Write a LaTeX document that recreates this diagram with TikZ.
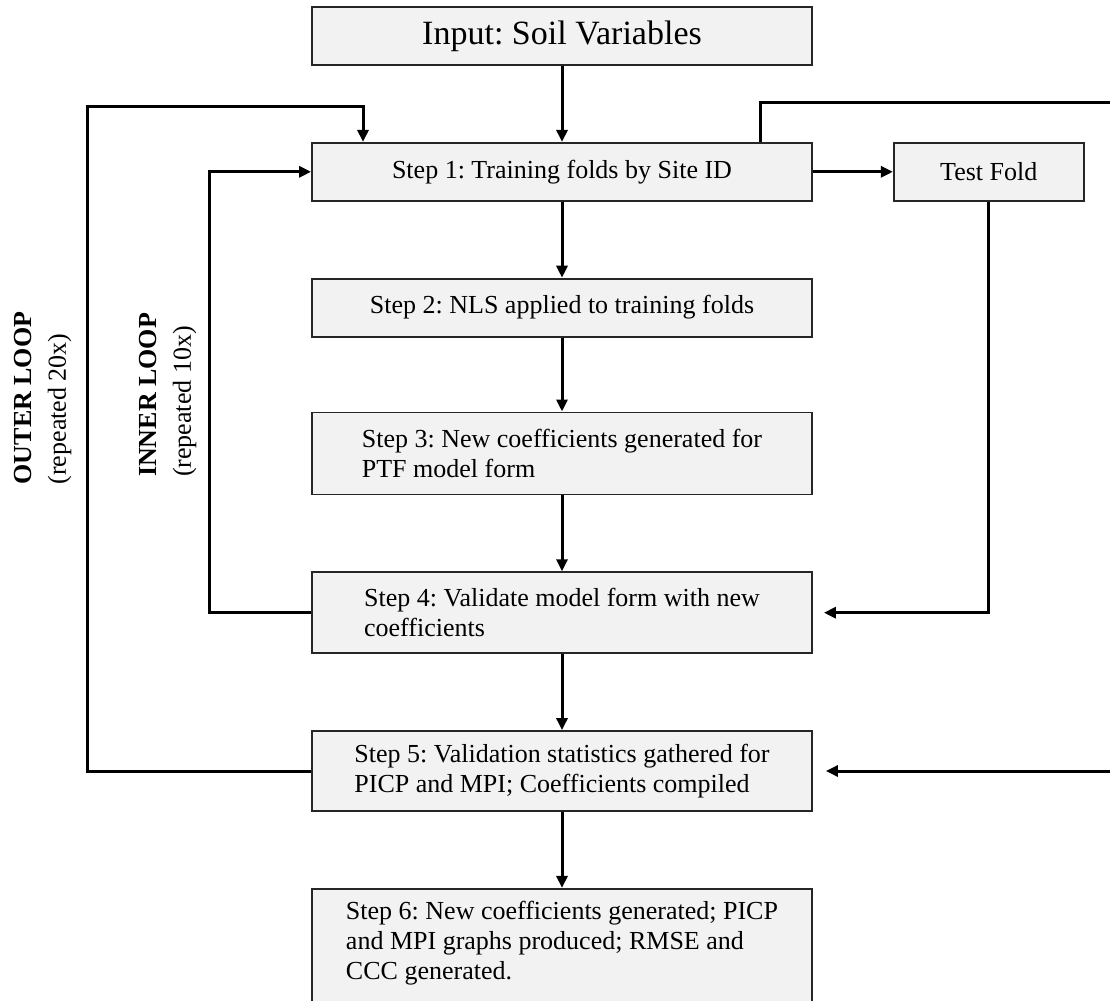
\documentclass[tikz,border=0pt]{standalone}
\usepackage{fontspec}
\setmainfont{Liberation Serif}
\usetikzlibrary{arrows.meta, positioning}
\definecolor{boxfill}{HTML}{F2F2F2}
\frenchspacing

\begin{document}
\begin{tikzpicture}[
  x=0.5pt, y=-0.5pt,
  node distance=38pt,
  box/.style={draw=black!85, line width=0.9pt, fill=boxfill, align=left, minimum width=250pt, minimum height=29pt, inner sep=5pt, font=\fontsize{13pt}{15pt}\selectfont},
  bigbox/.style={box, minimum height=40.5pt},
  arrow/.style={-{Triangle[length=6pt, width=5.5pt]}, line width=1.5pt},
  looplabel/.style={rotate=90, align=left, font=\fontsize{13pt}{17pt}\selectfont}
]
\useasboundingbox (0,0) rectangle (1110,1001);
\clip (0,0) rectangle (1110,1001);

\node[box, font=\fontsize{17pt}{20pt}\selectfont] (input) at (562,36) {Input: Soil Variables};
\node[box, below=of input] (s1) {Step 1: Training folds by Site ID};
\node[box, minimum width=95pt, right=40pt of s1] (test) {Test Fold};
\node[box, below=of s1] (s2) {Step 2: NLS applied to training folds};
\node[bigbox, minimum height=41pt, below=37pt of s2] (s3) {Step 3: New coefficients generated for\\PTF model form};
\node[bigbox, below=of s3] (s4) {Step 4: Validate model form with new\\coefficients};
\node[bigbox, minimum height=40pt, below=of s4] (s5) {Step 5: Validation statistics gathered for\\PICP and MPI; Coefficients compiled};
\node[box, inner ysep=6pt, below=of s5] (s6) {Step 6: New coefficients generated; PICP\\and MPI graphs produced; RMSE and\\CCC generated.\\\strut};

\node[looplabel] (outer) at (43,398) {\textbf{OUTER LOOP}\\(repeated 20x)};
\node[looplabel] (inner) at (168,395) {\textbf{INNER LOOP}\\(repeated 10x)};

\coordinate (outertop) at (87,106);
\coordinate (rightloop) at (1135,102);

\draw[arrow] (input) -- (s1);
\draw[arrow] (s1) -- (s2);
\draw[arrow] (s2) -- (s3);
\draw[arrow] (s3) -- (s4);
\draw[arrow] (s4) -- (s5);
\draw[arrow] (s5) -- (s6);
\draw[arrow] (s1) -- (test);

\draw[arrow, shorten >=5.5pt] (test.south) |- (s4.east);
\draw[arrow] (s4.west) -| ([xshift=-51pt]s1.west) -- (s1.west);
\draw[arrow] (s5.west) -| (outertop) -| ([xshift=-99.5pt]s1.north);
\draw[arrow, shorten >=6.5pt] ([xshift=99pt]s1.north) |- (rightloop) |- (s5.east);
\end{tikzpicture}
\end{document}
